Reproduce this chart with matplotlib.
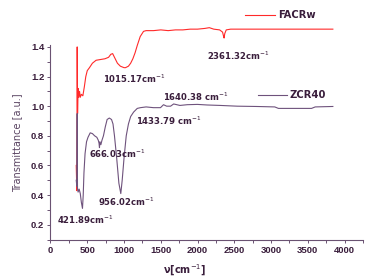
import matplotlib
matplotlib.use("Agg")
import matplotlib.pyplot as plt
from matplotlib.lines import Line2D
from matplotlib.ticker import MultipleLocator

# ---- data ----
facrw_x = [350, 358, 363, 368, 375, 385, 395, 405, 420, 440, 460, 480, 500, 530, 570,
           620, 680, 740, 790, 820, 845, 870, 910, 950, 1000, 1020, 1060, 1090, 1120,
           1150, 1180, 1220, 1265, 1300, 1400, 1500, 1600, 1700, 1800, 1900, 2000, 2100,
           2160, 2220, 2300, 2340, 2355, 2361, 2370, 2390, 2450, 2600, 2800, 3000, 3200,
           3400, 3600, 3840]
facrw_y = [0.60, 0.43, 1.40, 0.95, 1.12, 1.06, 1.10, 1.06, 1.08, 1.07, 1.13, 1.20, 1.24,
           1.26, 1.29, 1.31, 1.315, 1.32, 1.33, 1.35, 1.355, 1.33, 1.29, 1.27, 1.26, 1.26,
           1.27, 1.29, 1.32, 1.36, 1.41, 1.47, 1.505, 1.51, 1.51, 1.515, 1.51, 1.515, 1.515,
           1.52, 1.52, 1.525, 1.53, 1.52, 1.515, 1.50, 1.47, 1.46, 1.49, 1.515, 1.52, 1.52,
           1.52, 1.52, 1.52, 1.52, 1.52, 1.52]

zcr40_x = [350, 358, 363, 367, 375, 390, 405, 420, 435, 445, 455, 470, 490, 510, 540, 570,
           600, 630, 650, 660, 666, 672, 685, 700, 720, 745, 770, 800, 830, 850, 870, 900,
           930, 956, 975, 1000, 1030, 1060, 1090, 1130, 1180, 1224, 1300, 1400, 1496, 1537,
           1580, 1633, 1675, 1760, 1860, 1997, 2133, 2310, 2540, 2800, 3050, 3100, 3300,
           3550, 3600, 3840]
zcr40_y = [0.50, 0.46, 0.95, 0.45, 0.42, 0.44, 0.41, 0.35, 0.31, 0.40, 0.55, 0.68, 0.76,
           0.79, 0.82, 0.815, 0.80, 0.79, 0.77, 0.75, 0.72, 0.76, 0.74, 0.77, 0.80, 0.86,
           0.91, 0.92, 0.91, 0.88, 0.80, 0.65, 0.48, 0.41, 0.50, 0.65, 0.80, 0.88, 0.93,
           0.96, 0.985, 0.99, 0.995, 0.99, 0.99, 1.01, 1.0, 1.0, 1.015, 1.005, 1.01, 1.012,
           1.008, 1.005, 1.0, 0.998, 0.995, 0.985, 0.985, 0.985, 0.995, 0.998]

annotations = [
    ("1015.17cm$^{-1}$", 713, 1.157),
    ("2361.32cm$^{-1}$", 2126, 1.312),
    ("1640.38 cm$^{-1}$", 1529, 1.035),
    ("1433.79 cm$^{-1}$", 1162, 0.873),
    ("666.03cm$^{-1}$", 523, 0.647),
    ("956.02cm$^{-1}$", 645, 0.326),
    ("421.89cm$^{-1}$", 88, 0.208),
]

series_names = ["FACRw", "ZCR40"]
x_ticks = [0, 500, 1000, 1500, 2000, 2500, 3000, 3500, 4000]
y_ticks = [0.2, 0.4, 0.6, 0.8, 1.0, 1.2, 1.4]

# ---- style ----
RED = "#ff2a2a"
PURPLE = "#6e527c"
TEXT = "#3a1e3c"
AXC = "#6a5272"

fig = plt.figure(figsize=(3.65, 2.79), dpi=100)
ax = fig.add_axes([50.5 / 365, 1 - 239.5 / 279, (363 - 50.5) / 365, (239.5 - 45) / 279])

ax.plot(facrw_x, facrw_y, color=RED, lw=0.8, clip_on=False)
ax.plot(zcr40_x, zcr40_y, color=PURPLE, lw=0.8, clip_on=False)

ax.set_xlim(0, 4250)
ax.set_ylim(0.1, 1.413)

for s in ["top", "right"]:
    ax.spines[s].set_visible(False)
for s in ["left", "bottom"]:
    ax.spines[s].set_color(AXC)
    ax.spines[s].set_linewidth(0.8)

ax.set_xticks(x_ticks)
ax.set_yticks(y_ticks)
ax.set_yticklabels([f"{v:.1f}" for v in y_ticks])
ax.xaxis.set_minor_locator(MultipleLocator(250))
ax.yaxis.set_minor_locator(MultipleLocator(0.1))
ax.tick_params(which="both", direction="out", color=AXC, width=0.7)
ax.tick_params(which="major", length=2.5, pad=2)
ax.tick_params(which="minor", length=2)
for lab in ax.get_xticklabels() + ax.get_yticklabels():
    lab.set_fontfamily("Liberation Sans")
    lab.set_fontweight("bold")
    lab.set_fontsize(6.8)
    lab.set_color(TEXT)

ax.set_ylabel("Transmittance [a.u.]", fontsize=7, color="#5a4462", labelpad=6)
ax.set_xlabel("ν[cm$^{-1}$]", fontsize=7, fontweight="bold", color=TEXT)
ax.xaxis.set_label_coords((185 - 50.5) / (363 - 50.5), -0.12)

for txt, x, y in annotations:
    ax.text(x, y, txt, fontsize=6.1, fontweight="bold", color=TEXT,
            ha="left", va="baseline")

# legend-like labels
fig.add_artist(Line2D([245 / 365, 275 / 365], [1 - 15 / 279] * 2, color=RED, lw=0.8))
fig.text(278 / 365, 1 - 15 / 279, series_names[0], fontsize=7.2, fontweight="bold",
         color=TEXT, ha="left", va="center")
fig.add_artist(Line2D([258 / 365, 287 / 365], [1 - 95 / 279] * 2, color=PURPLE, lw=0.8))
fig.text(290 / 365, 1 - 95 / 279, series_names[1], fontsize=7.2, fontweight="bold",
         color=TEXT, ha="left", va="center")

fig.savefig("out.png", dpi=100)
